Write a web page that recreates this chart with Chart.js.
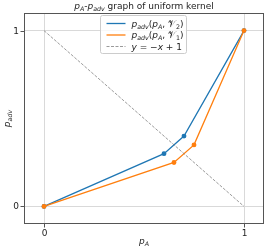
<!DOCTYPE html>
<html>
<head>
<meta charset="utf-8">
<script src="https://cdn.jsdelivr.net/npm/chart.js@4.4.0/dist/chart.umd.min.js"></script>
<style>
  html, body { margin: 0; padding: 0; background: #fff; }
  #wrap { width: 269px; height: 249px; position: relative; }
</style>
</head>
<body>
<div id="wrap"><canvas id="myChart"></canvas></div>
<script>
// data
const pA_v2 = [0, 0.6, 0.7, 1];
const padv_v2 = [0, 0.3, 0.4, 1];
const pA_v1 = [0, 0.65, 0.75, 1];
const padv_v1 = [0, 0.25, 0.35, 1];
const refX = [0, 1];
const refY = [1, 0];
const xTicks = [0, 1];
const yTicks = [0, 1];

const FONT = '"DejaVu Sans", sans-serif';
const BLUE = '#1f77b4';
const ORANGE = '#ff7f0e';

function pts(xs, ys) {
  return xs.map((x, i) => ({ x: x, y: ys[i] }));
}

// draw a run of text pieces: {t, it (italic), sub (subscript)}
function drawRich(ctx, parts, x, y, size, align) {
  const measure = (p) => {
    const s = p.sub ? size * 0.7 : size;
    ctx.font = (p.it ? 'italic ' : '') + s + 'px ' + FONT;
    return ctx.measureText(p.t).width;
  };
  let total = 0;
  parts.forEach(p => total += measure(p));
  let cx = align === 'center' ? x - total / 2 : x;
  ctx.textBaseline = 'alphabetic';
  ctx.textAlign = 'left';
  parts.forEach(p => {
    const w = measure(p);
    ctx.fillText(p.t, cx, p.sub ? y + size * 0.25 : y);
    cx += w;
  });
  return total;
}

const titleParts = [
  { t: 'p', it: true }, { t: 'A', it: true, sub: true }, { t: '-' },
  { t: 'p', it: true }, { t: 'adv', it: true, sub: true }, { t: ' graph of uniform kernel' }
];
const legendItems = [
  { color: BLUE, dash: [], parts: [
    { t: 'p', it: true }, { t: 'adv', it: true, sub: true }, { t: '(' },
    { t: 'p', it: true }, { t: 'A', it: true, sub: true }, { t: ', ' },
    { t: '\u{1D4B1}' }, { t: '2', sub: true }, { t: ')' }] },
  { color: ORANGE, dash: [], parts: [
    { t: 'p', it: true }, { t: 'adv', it: true, sub: true }, { t: '(' },
    { t: 'p', it: true }, { t: 'A', it: true, sub: true }, { t: ', ' },
    { t: '\u{1D4B1}' }, { t: '1', sub: true }, { t: ')' }] },
  { color: '#808080', dash: [3, 1.5], parts: [
    { t: 'y', it: true }, { t: ' = ' }, { t: '\u2212' }, { t: 'x', it: true }, { t: ' + 1' }] }
];

const decor = {
  id: 'decor',
  afterDraw(chart) {
    const ctx = chart.ctx;
    const a = chart.chartArea;
    const xs = chart.scales.x, ys = chart.scales.y;
    ctx.save();
    // frame
    ctx.strokeStyle = '#555';
    ctx.lineWidth = 1;
    ctx.strokeRect(a.left + 0.5, a.top + 0.5, a.right - a.left - 1, a.bottom - a.top - 1);
    // ticks + labels
    ctx.fillStyle = '#222';
    ctx.font = '9px ' + FONT;
    xTicks.forEach(v => {
      const px = Math.round(xs.getPixelForValue(v)) + 0.5;
      ctx.beginPath(); ctx.moveTo(px, a.bottom); ctx.lineTo(px, a.bottom + 3.5); ctx.stroke();
      ctx.textAlign = 'center'; ctx.textBaseline = 'top';
      ctx.fillText(String(v), px, a.bottom + 5);
    });
    yTicks.forEach(v => {
      const py = Math.round(ys.getPixelForValue(v)) + 0.5;
      ctx.beginPath(); ctx.moveTo(a.left, py); ctx.lineTo(a.left - 3.5, py); ctx.stroke();
      ctx.textAlign = 'right'; ctx.textBaseline = 'middle';
      ctx.fillText(String(v), a.left - 5, py);
    });
    // axis titles
    drawRich(ctx, [{ t: 'p', it: true }, { t: 'A', it: true, sub: true }], (a.left + a.right) / 2, 244, 9, 'center');
    ctx.save();
    ctx.translate(10, (a.top + a.bottom) / 2);
    ctx.rotate(-Math.PI / 2);
    drawRich(ctx, [{ t: 'p', it: true }, { t: 'adv', it: true, sub: true }], 0, 0, 9, 'center');
    ctx.restore();
    // title
    drawRich(ctx, titleParts, (a.left + a.right) / 2, 9, 9, 'center');
    // legend
    const lx = 100.5, ly = 15.5, lw = 86, lh = 38, r = 2;
    ctx.fillStyle = 'rgba(255,255,255,0.8)';
    ctx.strokeStyle = '#cccccc';
    ctx.lineWidth = 1;
    ctx.beginPath();
    ctx.moveTo(lx + r, ly);
    ctx.lineTo(lx + lw - r, ly);
    ctx.quadraticCurveTo(lx + lw, ly, lx + lw, ly + r);
    ctx.lineTo(lx + lw, ly + lh - r);
    ctx.quadraticCurveTo(lx + lw, ly + lh, lx + lw - r, ly + lh);
    ctx.lineTo(lx + r, ly + lh);
    ctx.quadraticCurveTo(lx, ly + lh, lx, ly + lh - r);
    ctx.lineTo(lx, ly + r);
    ctx.quadraticCurveTo(lx, ly, lx + r, ly);
    ctx.closePath();
    ctx.fill(); ctx.stroke();
    legendItems.forEach((it, i) => {
      const yy = ly + 8 + i * 11.5;
      ctx.strokeStyle = it.color;
      ctx.lineWidth = it.dash.length ? 0.8 : 1.3;
      ctx.setLineDash(it.dash);
      ctx.beginPath(); ctx.moveTo(lx + 6, yy); ctx.lineTo(lx + 25, yy); ctx.stroke();
      ctx.setLineDash([]);
      ctx.fillStyle = '#222';
      drawRich(ctx, it.parts, lx + 31, yy + 3, 9, 'left');
    });
    ctx.restore();
  }
};

const tickSetter = (scale, vals) => {
  scale.ticks = vals.map(v => ({ value: v }));
};

const ctx = document.getElementById('myChart');
const myChart = new Chart(ctx, {
  type: 'scatter',
  plugins: [decor],
  data: {
    datasets: [{
      label: 'v2',
      data: pts(pA_v2, padv_v2),
      showLine: true,
      borderColor: BLUE,
      backgroundColor: BLUE,
      borderWidth: 1.3,
      pointRadius: 1.8,
      pointHoverRadius: 1.8,
      order: 3
    }, {
      label: 'v1',
      data: pts(pA_v1, padv_v1),
      showLine: true,
      borderColor: ORANGE,
      backgroundColor: ORANGE,
      borderWidth: 1.3,
      pointRadius: 1.8,
      pointHoverRadius: 1.8,
      order: 2
    }, {
      label: 'ref',
      data: pts(refX, refY),
      showLine: true,
      borderColor: '#808080',
      borderWidth: 0.8,
      borderDash: [3, 1.5],
      pointRadius: 0,
      order: 1
    }]
  },
  options: {
    responsive: true,
    maintainAspectRatio: false,
    animation: false,
    devicePixelRatio: 1,
    layout: { padding: { left: 24, top: 13, right: 5, bottom: 25 } },
    plugins: {
      legend: { display: false },
      title: { display: false },
      tooltip: { enabled: false }
    },
    scales: {
      x: {
        type: 'linear', min: -0.1, max: 1.1,
        afterBuildTicks: s => tickSetter(s, xTicks),
        ticks: { display: false },
        grid: { color: '#d9d9d9', lineWidth: 1, drawTicks: false },
        border: { display: false }
      },
      y: {
        type: 'linear', min: -0.1, max: 1.1,
        afterBuildTicks: s => tickSetter(s, yTicks),
        ticks: { display: false },
        grid: { color: '#d9d9d9', lineWidth: 1, drawTicks: false },
        border: { display: false }
      }
    }
  }
});
</script>
</body>
</html>
